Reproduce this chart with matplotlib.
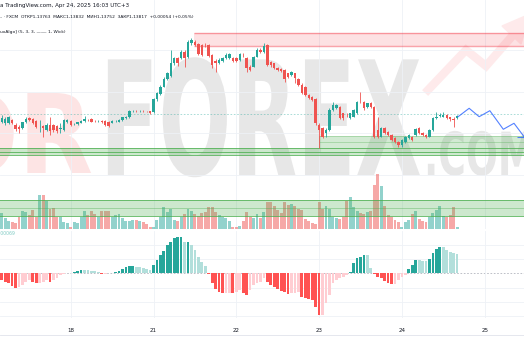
import matplotlib.pyplot as plt
import numpy as np
from matplotlib import patheffects
from matplotlib.transforms import Affine2D
from matplotlib.textpath import TextPath
from matplotlib.font_manager import FontProperties
from matplotlib.lines import Line2D
from matplotlib.patches import Polygon

# EURUSD 1h, FXCM - hour index 0 = Apr 18 00:00 (weekend gap removed)
hours = list(range(-20, 113))

opens = [1.1368, 1.1364, 1.1364, 1.1372, 1.1360, 1.1356, 1.1352, 1.1368, 1.1376, 1.13736,
         1.13704, 1.13544, 1.13576, 1.1348, 1.1360, 1.13592, 1.13576, 1.13512, 1.1348, 1.1368,
         1.13704, 1.13616, 1.13624, 1.13656, 1.13688, 1.1372, 1.13736, 1.13704, 1.13696, 1.13704,
         1.13696, 1.13672, 1.13656, 1.13696, 1.1368, 1.1372, 1.1376, 1.13784, 1.13936, 1.13936,
         1.13928, 1.13936, 1.13928, 1.13928, 1.1392, 1.14216, 1.14344, 1.1452, 1.14696, 1.14776,
         1.1508, 1.1520, 1.1520, 1.1536, 1.1524, 1.1556, 1.1560, 1.15544, 1.1552, 1.1552,
         1.1552, 1.1528, 1.15144, 1.15096, 1.15144, 1.1520, 1.1520, 1.1520, 1.1520, 1.1516,
         1.1528, 1.1520, 1.1500, 1.1500, 1.1524, 1.1540, 1.1536, 1.1552, 1.1512, 1.1508,
         1.1496, 1.14936, 1.1492, 1.1484, 1.1480, 1.1484, 1.14696, 1.1456, 1.1452, 1.1432,
         1.1428, 1.14216, 1.1360, 1.1352, 1.1340, 1.1348, 1.1396, 1.1400, 1.1404, 1.1388,
         1.1384, 1.1376, 1.1380, 1.1388, 1.1416, 1.1416, 1.1404, 1.1412, 1.1404, 1.1348,
         1.1332, 1.1352, 1.1344, 1.1336, 1.1328, 1.1320, 1.1312, 1.1320, 1.1328, 1.1332,
         1.1336, 1.1352, 1.1340, 1.1336, 1.1332, 1.1348, 1.1376, 1.13824, 1.1380, 1.1384,
         1.13784, 1.13752, 1.13763]
highs = [1.1384, 1.13784, 1.13816, 1.13752, 1.1364, 1.1360, 1.1368, 1.1380, 1.13784, 1.1376,
         1.1372, 1.1372, 1.1360, 1.1364, 1.1380, 1.13624, 1.1360, 1.1364, 1.13736, 1.13736,
         1.1372, 1.13656, 1.1368, 1.1372, 1.13816, 1.13752, 1.1376, 1.13728, 1.1372, 1.1372,
         1.1372, 1.13688, 1.1372, 1.1372, 1.13744, 1.1380, 1.13816, 1.1396, 1.1396, 1.13952,
         1.13952, 1.13952, 1.13944, 1.13944, 1.1424, 1.1440, 1.1456, 1.14744, 1.1488, 1.1540,
         1.1524, 1.1524, 1.1540, 1.1540, 1.1564, 1.1568, 1.1564, 1.15576, 1.15544, 1.1556,
         1.15544, 1.15304, 1.15176, 1.1520, 1.1524, 1.1532, 1.15336, 1.1524, 1.15224, 1.1532,
         1.1532, 1.1524, 1.15032, 1.15256, 1.1544, 1.1544, 1.1556, 1.15544, 1.15144, 1.15096,
         1.14984, 1.1496, 1.14936, 1.14856, 1.14904, 1.14856, 1.1472, 1.1460, 1.14536, 1.14344,
         1.14296, 1.1424, 1.1364, 1.1356, 1.1352, 1.1400, 1.1416, 1.14104, 1.14056, 1.13896,
         1.1388, 1.13896, 1.13976, 1.14184, 1.1440, 1.14184, 1.14136, 1.14144, 1.14056, 1.1380,
         1.13544, 1.13544, 1.13464, 1.13384, 1.13304, 1.13224, 1.13256, 1.13336, 1.13384, 1.13344,
         1.13536, 1.13544, 1.13424, 1.13384, 1.13496, 1.13784, 1.1392, 1.1388, 1.1392, 1.13864,
         1.1380, 1.13784, 1.13832]
lows = [1.1364, 1.1360, 1.13624, 1.13624, 1.13464, 1.1340, 1.13496, 1.13656, 1.13696, 1.13624,
        1.1352, 1.1344, 1.1332, 1.13464, 1.1336, 1.1344, 1.13416, 1.13416, 1.13464, 1.13656,
        1.13576, 1.13592, 1.13608, 1.1364, 1.13672, 1.13688, 1.13664, 1.13672, 1.13672, 1.13656,
        1.13576, 1.13544, 1.1364, 1.1368, 1.13664, 1.13704, 1.13744, 1.13768, 1.13912, 1.13912,
        1.13912, 1.13912, 1.13912, 1.13864, 1.13896, 1.14184, 1.1432, 1.14504, 1.1468, 1.1476,
        1.1504, 1.15016, 1.15176, 1.1500, 1.1520, 1.1552, 1.15496, 1.1528, 1.15256, 1.1548,
        1.1524, 1.1496, 1.1488, 1.15064, 1.1512, 1.15176, 1.15176, 1.1512, 1.1512, 1.15144,
        1.1524, 1.1488, 1.14896, 1.14984, 1.15224, 1.1532, 1.15336, 1.15016, 1.1500, 1.14936,
        1.14896, 1.14872, 1.1464, 1.14736, 1.14776, 1.1460, 1.14536, 1.14336, 1.14296, 1.14216,
        1.14176, 1.1360, 1.1304, 1.1328, 1.1332, 1.13464, 1.13944, 1.13976, 1.13736, 1.1372,
        1.1380, 1.13736, 1.13784, 1.13864, 1.1412, 1.1396, 1.14016, 1.14016, 1.1328, 1.1328,
        1.13304, 1.13376, 1.13336, 1.13216, 1.13176, 1.13064, 1.1308, 1.13176, 1.13256, 1.13216,
        1.1334, 1.13376, 1.13336, 1.13296, 1.13304, 1.13464, 1.13736, 1.1380, 1.13784, 1.13736,
        1.13696, 1.13544, 1.13752]
closes = [1.1376, 1.13736, 1.13784, 1.1364, 1.13496, 1.13496, 1.13664, 1.13752, 1.1372, 1.13656,
          1.13544, 1.1356, 1.1352, 1.13592, 1.13464, 1.1348, 1.13464, 1.13528, 1.1372, 1.1372,
          1.1360, 1.13632, 1.13664, 1.13704, 1.13736, 1.13718, 1.1368, 1.13696, 1.13704, 1.13672,
          1.1360, 1.13576, 1.13696, 1.13704, 1.13728, 1.13784, 1.1380, 1.13936, 1.13938, 1.13928,
          1.13936, 1.13928, 1.13926, 1.1388, 1.14216, 1.1436, 1.1452, 1.14696, 1.1484, 1.1508,
          1.1520, 1.1508, 1.1536, 1.1520, 1.1560, 1.1564, 1.1552, 1.15304, 1.1528, 1.15512,
          1.15256, 1.1504, 1.1508, 1.1516, 1.1520, 1.1528, 1.15304, 1.15144, 1.15144, 1.15304,
          1.15276, 1.1496, 1.1492, 1.1524, 1.1540, 1.1536, 1.15496, 1.1504, 1.1504, 1.1496,
          1.1492, 1.14904, 1.14696, 1.1476, 1.1488, 1.1472, 1.1456, 1.1436, 1.1432, 1.1424,
          1.1420, 1.1364, 1.1348, 1.1332, 1.1348, 1.1396, 1.1408, 1.1408, 1.1376, 1.1376,
          1.13832, 1.1388, 1.1396, 1.1416, 1.14152, 1.1400, 1.1412, 1.1404, 1.1332, 1.1332,
          1.1352, 1.1340, 1.1336, 1.1324, 1.1320, 1.1312, 1.1324, 1.1332, 1.1336, 1.1324,
          1.13496, 1.1340, 1.1336, 1.1332, 1.1348, 1.1376, 1.1380, 1.1384, 1.1384, 1.1376,
          1.13736, 1.1372, 1.13817]

volumes = [480, 330, 250, 200, 170, 370, 550, 500, 430, 570,
           350, 1020, 1020, 850, 600, 630, 370, 370, 200, 170,
           50, 220, 170, 370, 550, 430, 550, 450, 370, 550,
           530, 530, 370, 430, 450, 330, 250, 250, 270, 270,
           230, 200, 150, 70, 70, 270, 370, 650, 500, 600,
           270, 250, 350, 450, 600, 550, 450, 400, 470, 500,
           650, 650, 500, 430, 350, 330, 250, 70, 50, 100,
           230, 500, 370, 330, 450, 330, 500, 800, 800, 700,
           570, 470, 800, 730, 750, 700, 600, 570, 300, 250,
           170, 150, 800, 600, 700, 600, 350, 330, 300, 370,
           830, 950, 650, 550, 470, 450, 500, 530, 1330, 1650,
           1300, 700, 430, 370, 270, 200, 50, 200, 270, 450,
           530, 300, 230, 200, 350, 470, 570, 700, 400, 370,
           430, 650, 50]

# oscillator histogram, in 1e-5
osc_vals = [-14, -17.5, -21, -26.6, -31.5, -29.4, -24.5, -17.5, -14, -17.5,
            -21, -21, -17.5, -14, -17.5, -14, -10.5, -3.5, -1.4, -0.4,
            0.3, 2.1, 4.9, 7, 7, 7, 5.6, 4.2, 2.1, -0.7,
            -0.7, -0.4, 1.4, 2.8, 5.6, 8.4, 14, 15.4, 16.1, 14,
            12.6, 10.5, 8.4, 7, 17.5, 28, 38.5, 47.6, 59.5, 66.5,
            73.5, 75.6, 76, 65, 66.5, 59.5, 49, 35, 24.5, 15.4,
            -2.1, -21, -33.6, -38.5, -42, -40.6, -40.6, -42, -38.5, -35,
            -42, -45.5, -35, -24.5, -21, -17.5, -10.5, -17.5, -24.5, -29.4,
            -33.6, -36.4, -38.5, -43.4, -42, -40.6, -38.5, -49, -52.5, -54.6,
            -56, -71.4, -87.5, -87.5, -63, -45.5, -21, -14, -10.5, -7,
            -3.5, 3.5, 21, 31.5, 33.6, 38.5, 37.8, 10.5, -2.1, -7,
            -10.5, -15.4, -21, -22.4, -22.4, -14, -8.4, -3.5, 8.4, 17.5,
            28, 28, 26.6, 26.6, 29.4, 42, 50.4, 54.6, 54.6, 49,
            45.5, 42, 40.6]

day_pos = [0, 24, 48, 72, 96, 120]
day_labels = ['18', '21', '22', '23', '24', '25']

# drawings on the chart
proj_x = [112.3, 115.5, 118.4, 121.5, 125.4, 128.5, 131.6]
proj_y = [1.13799, 1.14001, 1.13799, 1.13943, 1.13497, 1.13641, 1.1330]
red_zone = (35.6, 1.15496, 1.15815)
support_zone = (1.1288, 1.12959, 1.13041)
demand_box = (72, 1.13041, 1.13343)
last_line = 1.1387
vol_zone = (390, 621, 870)

UP, DOWN = '#26a69a', '#ef5350'
W, H = 524, 350


def fy(py):
    return 1 - py / H


class Squeeze(patheffects.AbstractPathEffect):
    # narrow the watermark letters around an anchor x (display px)
    def __init__(self, sx, x0):
        super().__init__()
        self.sx, self.x0 = sx, x0

    def draw_path(self, renderer, gc, tpath, affine, rgbFace=None):
        sq = Affine2D().translate(-self.x0, 0).scale(self.sx, 1).translate(self.x0, 0)
        renderer.draw_path(gc, tpath, affine + sq, rgbFace)


wm_font = FontProperties(family='DejaVu Sans', weight='bold')


def watermark(s, x, base, cap, width, color, ha='left'):
    ext = TextPath((0, 0), s, size=100, prop=wm_font).get_extents()
    size = 100 * cap / (ext.height * 100 / 72)
    sx = width / (ext.width * 100 / 72 * size / 100)
    fig.text(x / W, fy(base), s, fontproperties=wm_font, fontsize=size, color=color,
             ha=ha, va='baseline', zorder=-10,
             path_effects=[Squeeze(sx, x)])


fig = plt.figure(figsize=(W / 100, H / 100), dpi=100)
fig.patch.set_facecolor('white')

# watermark behind everything
watermark('FOREX', 100, 175, 120, 312, '#e7e7e7')
watermark('OR', 93, 173, 83, 150, '#fde4e4', ha='right')
watermark('.COM', 424, 175, 45, 104, '#e7e7e7')
fig.add_artist(Line2D(np.array([428, 466, 486, 514]) / W, fy(np.array([90, 50, 66, 34])),
                      color='#feeaeb', lw=6, zorder=-9, solid_joinstyle='miter'))
fig.add_artist(Polygon(np.column_stack([np.array([502, 530, 521]) / W, fy(np.array([26, 14, 44]))]),
                       closed=True, color='#feeaeb', zorder=-9, transform=fig.transFigure))

# main pane
ax = fig.add_axes([0, fy(229), 1, 229 / H])
ax.set_facecolor('none')
x = np.array(hours)
o, h, l, c = map(np.array, (opens, highs, lows, closes))
cols = np.where(c >= o, UP, DOWN)
ax.vlines(x, l, h, colors=cols, lw=0.6, zorder=4)
ax.bar(x, np.maximum(np.abs(c - o), 0.00012), bottom=np.minimum(o, c), width=0.7,
       color=cols, lw=0, zorder=5)

rz_x, rz_lo, rz_hi = red_zone
ax.fill_between([rz_x, 140], rz_lo, rz_hi, color='#f23645', alpha=0.15, lw=0, zorder=2)
ax.hlines([rz_lo, rz_hi], rz_x, 140, color='#f23645', alpha=0.45, lw=1.0, zorder=2)

ax.fill_between([-30, 140], support_zone[0], support_zone[2], color='#4caf50', alpha=0.28, lw=0, zorder=2)
ax.hlines(support_zone, -30, 140, color='#4caf50', alpha=0.8, lw=0.7, zorder=3)
db_x, db_lo, db_hi = demand_box
ax.fill_between([db_x, 140], db_lo, db_hi, color='#4caf50', alpha=0.25, lw=0, zorder=2)
ax.hlines([db_hi, (db_lo + db_hi) / 2], db_x, 140, color='#4caf50', alpha=0.45, lw=0.5, zorder=3)
ax.vlines(db_x, db_lo, db_hi, color='#4caf50', alpha=0.45, lw=0.5, zorder=3)

ax.axhline(last_line, color=UP, alpha=0.45, lw=0.6, ls=(0, (2, 2)), zorder=3)
ax.plot(proj_x, proj_y, color='#2962ff', alpha=0.8, lw=0.8, zorder=6)
ax.hlines(proj_y[-1] + 0.00016, 129.5, 132, color='#2962ff', alpha=0.8, lw=0.8, zorder=6)

ax.set_xlim(-20.5, 131.4)
ax.set_ylim(1.1660 - 0.00024 * 229, 1.1660)
ax.set_xticks(day_pos)
ax.set_yticks([1.124, 1.134, 1.144, 1.154])
ax.grid(color='#eef1f6', lw=0.6, zorder=0)
ax.tick_params(length=0, labelleft=False, labelbottom=False)
for s in ax.spines.values():
    s.set_visible(False)

# volume overlay
vax = ax.twinx()
vcols = np.where(c >= o, UP, DOWN)
vax.bar(x, volumes, width=0.85, color=vcols, alpha=0.5, lw=0)
vax.fill_between([-30, 140], vol_zone[0], vol_zone[2], color='#4caf50', alpha=0.28, lw=0)
vax.hlines([vol_zone[0], vol_zone[2]], -30, 140, color='#4caf50', alpha=0.8, lw=0.7)
vax.hlines(vol_zone[1], -30, 140, color='#4caf50', alpha=0.45, lw=0.6)
vax.set_ylim(0, 229 * 30)
vax.set_xlim(-20.5, 131.4)
vax.axis('off')

# oscillator pane
osc = fig.add_axes([0, fy(318), 1, 87 / H])
osc.set_facecolor('none')
ocols = []
prev = 0
for v in osc_vals:
    if v >= 0:
        ocols.append('#26a69a' if v > prev else '#b2dfdb')
    else:
        ocols.append('#ff5252' if v < prev else '#ffcdd2')
    prev = v
osc.bar(x, osc_vals, width=0.8, color=ocols, lw=0, zorder=3)
osc.axhline(0, color='#b2b5be', lw=0.6, ls=(0, (2, 2)), zorder=1)
osc.set_xlim(-20.5, 131.4)
osc.set_ylim(-93.9, 88.8)
osc.set_yticks([-90, -60, -30, 30, 60])
osc.set_xticks(day_pos)
osc.set_xticklabels(day_labels)
osc.grid(color='#eef1f6', lw=0.6, zorder=0)
osc.tick_params(length=0, labelleft=False, labelsize=4, pad=7, labelcolor='#131722')
for s in osc.spines.values():
    s.set_visible(False)

fig.add_artist(Line2D([0, 1], [fy(335), fy(335)], color='#e0e3eb', lw=0.6))

# legend texts
fig.text(0, fy(5), 'a TradingView.com, Apr 24, 2025 16:03 UTC+3', fontsize=4, color='#131722', va='center')
fig.text(0, fy(17), '– · FXCM  ОТКР1,13763  МАКС1,13832  МИН1,13752  ЗАКР1,13817  +0,00054 (+0,05%)',
         fontsize=3.2, color='#131722', va='center')
fig.text(0, fy(32), 'uxAlgo] (5, 3, 3, ——, 1, Wick)', fontsize=3.2, color='#131722', va='center')
fig.text(-3 / W, fy(233.5), '0.00069', fontsize=3.3, color='#80cbc4', va='center')

fig.savefig('out.png', dpi=100, facecolor='white')
